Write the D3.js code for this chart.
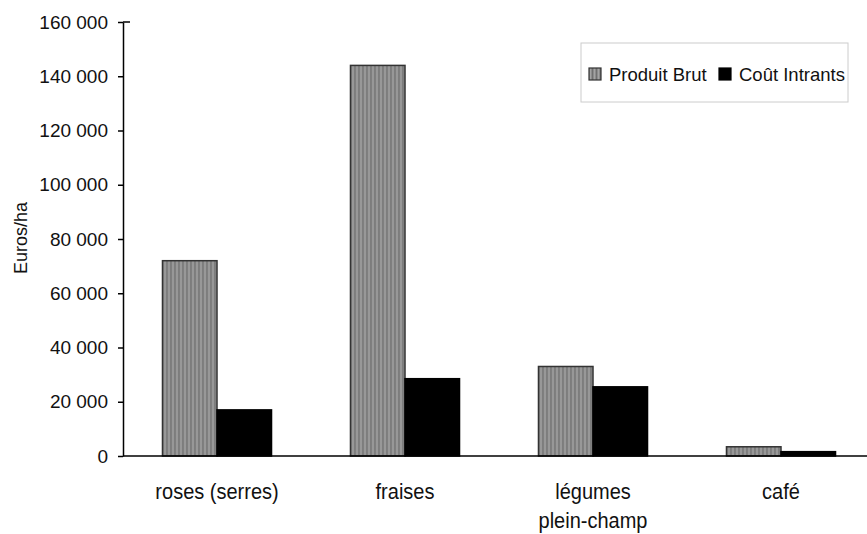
<!DOCTYPE html>
<html>
<head>
<meta charset="utf-8">
<script src="https://cdn.jsdelivr.net/npm/d3@7"></script>
<style>
  body { margin: 0; background: #fff; }
  text { font-family: Arial, "Liberation Sans", sans-serif; fill: #111; }
</style>
</head>
<body>
<script>
// valeurs
const categories = ['roses (serres)', 'fraises', 'légumes\nplein-champ', 'café']
const series = ['Produit Brut', 'Coût Intrants']
const produitBrut = [72000, 144000, 33000, 3400]
const coutIntrants = [17000, 28500, 25500, 1600]
const yTicks = [0, 20000, 40000, 60000, 80000, 100000, 120000, 140000, 160000]

const WIDTH = 867
const HEIGHT = 534
const mLeft = 123, mRight = 875, mTop = 22, mBottom = 456

const svg = d3.select('body')
  .append('svg')
  .attr('width', WIDTH)
  .attr('height', HEIGHT)

// motif rayé vertical pour Produit Brut
const defs = svg.append('defs')
const pat = defs.append('pattern')
  .attr('id', 'rayures')
  .attr('patternUnits', 'userSpaceOnUse')
  .attr('width', 4)
  .attr('height', 4)
pat.append('rect').attr('width', 4).attr('height', 4).attr('fill', '#8c8c8c')
pat.append('rect').attr('x', 0).attr('width', 1).attr('height', 4).attr('fill', '#707070')
pat.append('rect').attr('x', 2).attr('width', 1).attr('height', 4).attr('fill', '#a4a4a4')

const fills = ['url(#rayures)', '#000']
const strokes = ['#333', '#000']

// la zone de tracé dépasse un peu à droite de l'image
const x0 = d3.scaleBand()
  .domain(categories)
  .range([mLeft, mRight])
  .paddingInner(0.42)
  .paddingOuter(0.21)

const x1 = d3.scaleBand()
  .domain(series)
  .range([0, x0.bandwidth()])

const y = d3.scaleLinear()
  .domain([0, 160000])
  .range([mBottom, mTop])

const fmt = d => d3.format(',')(d).replace(/,/g, ' ')

// barres
const rows = categories.map((c, i) => ({ cat: c, vals: [produitBrut[i], coutIntrants[i]] }))

const groups = svg.selectAll('g.groupe')
  .data(rows)
  .enter()
  .append('g')
  .attr('class', 'groupe')
  .attr('transform', d => `translate(${x0(d.cat)},0)`)

groups.selectAll('rect')
  .data(d => d.vals.map((v, j) => ({ s: series[j], v: v, j: j })))
  .enter()
  .append('rect')
  .attr('x', d => x1(d.s))
  .attr('y', d => y(d.v))
  .attr('width', x1.bandwidth())
  .attr('height', d => y(0) - y(d.v))
  .attr('fill', d => fills[d.j])
  .attr('stroke', d => strokes[d.j])
  .attr('stroke-width', 1.5)

// axe Y
const yAxis = svg.append('g')
  .attr('transform', `translate(${mLeft},0)`)
  .call(d3.axisLeft(y).tickValues(yTicks).tickFormat(fmt).tickSize(5).tickSizeOuter(0).tickPadding(10))
yAxis.select('.domain').attr('stroke', '#000').attr('stroke-width', 1.5)
yAxis.selectAll('.tick line').attr('stroke', '#000').attr('stroke-width', 1.5)
yAxis.selectAll('.tick text')
  .style('font-size', '19px')
  .style('font-family', 'Arial, "Liberation Sans", sans-serif')
  .attr('fill', '#111')

// petit trait en haut de l'axe, vers la droite
svg.append('line')
  .attr('x1', mLeft).attr('x2', mLeft + 7)
  .attr('y1', y(160000)).attr('y2', y(160000))
  .attr('stroke', '#000')
  .attr('stroke-width', 1.5)

// axe X
svg.append('line')
  .attr('x1', mLeft).attr('x2', WIDTH)
  .attr('y1', y(0)).attr('y2', y(0))
  .attr('stroke', '#000')
  .attr('stroke-width', 1.5)

// libellés un peu étirés en hauteur, comme sur l'original
svg.selectAll('text.cat')
  .data(categories)
  .enter()
  .append('text')
  .attr('class', 'cat')
  .attr('text-anchor', 'middle')
  .attr('transform', d => `translate(${x0(d) + x0.bandwidth() / 2},499) scale(1,1.13)`)
  .style('font-size', '20px')
  .each(function(d) {
    const lines = d.split('\n')
    d3.select(this).selectAll('tspan')
      .data(lines)
      .enter()
      .append('tspan')
      .attr('x', 0)
      .attr('dy', (l, i) => i === 0 ? 0 : 26)
      .text(l => l)
  })

// titre axe Y
svg.append('text')
  .attr('transform', 'translate(27,238) rotate(-90)')
  .attr('text-anchor', 'middle')
  .style('font-size', '18px')
  .text('Euros/ha')

// légende
const leg = svg.append('g')
svg.append('rect')
  .attr('x', 581).attr('y', 43)
  .attr('width', 267).attr('height', 59)
  .attr('fill', 'none')
  .attr('stroke', '#ccc')
  .attr('stroke-width', 1)

const legX = [589, 719]
series.forEach((s, i) => {
  leg.append('rect')
    .attr('x', legX[i]).attr('y', 68)
    .attr('width', 12).attr('height', 12)
    .attr('fill', fills[i])
    .attr('stroke', strokes[i])
    .attr('stroke-width', 1.2)
  leg.append('text')
    .attr('x', legX[i] + 20)
    .attr('y', 81)
    .style('font-size', '18.5px')
    .text(s)
})
</script>
</body>
</html>
